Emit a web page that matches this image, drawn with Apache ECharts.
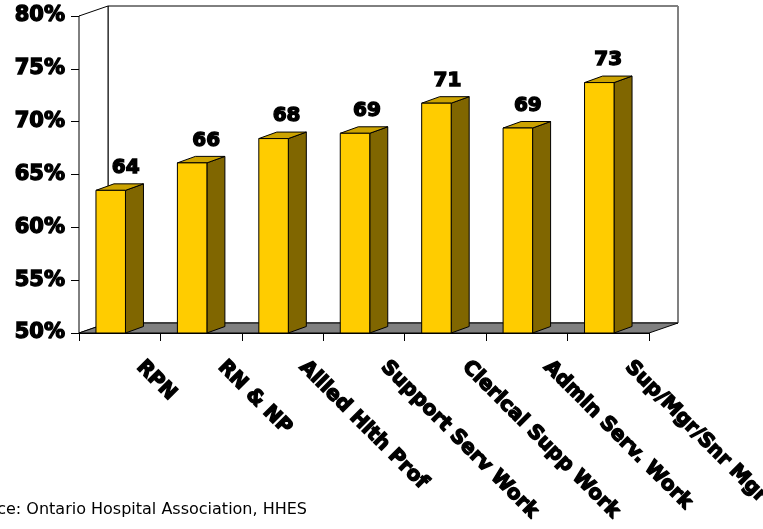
<!DOCTYPE html>
<html>
<head>
<meta charset="utf-8">
<script src="https://cdn.jsdelivr.net/npm/echarts@6/dist/echarts.min.js"></script>
<style>
html,body{margin:0;padding:0;background:#fff;}
#chart{width:763px;height:529px;}
</style>
</head>
<body>
<div id="chart"></div>
<script>
// ---- data ----
var categories = ['RPN', 'RN & NP', 'Allied Hlth Prof', 'Support Serv Work', 'Clerical Supp Work', 'Admin Serv. Work', 'Sup/Mgr/Snr Mgr'];
var values = [63.5, 66.1, 68.4, 68.9, 71.75, 69.4, 73.7];
var barLabels = ['64', '66', '68', '69', '71', '69', '73'];
var yMin = 50, yMax = 80, yStep = 5;
var sourceText = 'Source: Ontario Hospital Association, HHES';

// ---- style ----
var WALL_DX = 29, WALL_DY = -10;
var BAR_W = 29.5, BAR_DX = 18, BAR_DY = -6.5;
var FONT = 'DejaVu Sans';
var HEAVY = 1.4;

var chart = echarts.init(document.getElementById('chart'), null, {renderer: 'canvas'});

function renderWalls(params, api) {
  var cs = params.coordSys;
  var x = cs.x, y = cs.y, w = cs.width, h = cs.height;
  var b = y + h;
  return {
    type: 'group',
    children: [
      {type: 'rect', shape: {x: x + WALL_DX, y: y + WALL_DY, width: w, height: h},
       style: {fill: '#fff', stroke: '#000', lineWidth: 1}},
      {type: 'line', shape: {x1: x + w + WALL_DX, y1: y + WALL_DY, x2: x + w + WALL_DX, y2: b + WALL_DY},
       style: {stroke: '#808080', lineWidth: 2}},
      {type: 'polygon', shape: {points: [[x, y], [x + WALL_DX, y + WALL_DY], [x + WALL_DX, b + WALL_DY], [x, b]]},
       style: {fill: '#fff', stroke: '#000', lineWidth: 1}},
      {type: 'polygon', shape: {points: [[x, b], [x + WALL_DX, b + WALL_DY], [x + w + WALL_DX, b + WALL_DY], [x + w, b]]},
       style: {fill: '#808080', stroke: '#000', lineWidth: 1}}
    ]
  };
}

function renderBar(params, api) {
  var i = api.value(0);
  var v = api.value(1);
  var top = api.coord([i, v]);
  var base = api.coord([i, yMin]);
  var x0 = top[0] - (BAR_W + BAR_DX) / 2;
  var t = top[1], bt = base[1];
  var r = x0 + BAR_W;
  return {
    type: 'group',
    children: [
      {type: 'polygon', shape: {points: [[r, t], [r + BAR_DX, t + BAR_DY], [r + BAR_DX, bt + BAR_DY], [r, bt]]},
       style: {fill: '#806600', stroke: '#000', lineWidth: 1}},
      {type: 'polygon', shape: {points: [[x0, t], [x0 + BAR_DX, t + BAR_DY], [r + BAR_DX, t + BAR_DY], [r, t]]},
       style: {fill: '#CCA300', stroke: '#000', lineWidth: 1}},
      {type: 'rect', shape: {x: x0, y: t, width: BAR_W, height: bt - t},
       style: {fill: '#FFCC00', stroke: '#000', lineWidth: 1}},
      {type: 'text', x: x0 + (BAR_W + BAR_DX) / 2 + (6 - i), y: t + BAR_DY - 6,
       style: {text: barLabels[params.dataIndex], align: 'center', verticalAlign: 'bottom',
               font: 'bold 20px "' + FONT + '"', fill: '#000', stroke: '#000', lineWidth: HEAVY}},
      // category label, rotated 45 degrees downward
      {type: 'text', x: top[0] + 27, y: base[1] + 24, rotation: -Math.PI / 4,
       style: {text: categories[params.dataIndex], align: 'left', verticalAlign: 'top',
               font: 'bold 20px "' + FONT + '"', fill: '#000', stroke: '#000', lineWidth: HEAVY}}
    ]
  };
}

var barData = values.map(function (v, i) { return [i, v]; });

chart.setOption({
  animation: false,
  backgroundColor: '#fff',
  grid: {left: 79, top: 16, width: 570, height: 317, containLabel: false},
  xAxis: {
    type: 'category',
    data: categories,
    boundaryGap: true,
    axisLine: {show: true, lineStyle: {color: '#000', width: 1}},
    axisTick: {show: true, interval: 0, length: 8, alignWithLabel: false, lineStyle: {color: '#000'}},
    axisLabel: {show: false, interval: 0},
    splitLine: {show: false}
  },
  yAxis: {
    type: 'value',
    min: yMin, max: yMax, interval: yStep,
    axisLine: {show: true, lineStyle: {color: '#000', width: 1}},
    axisTick: {show: true, length: 8, lineStyle: {color: '#000'}},
    axisLabel: {
      formatter: '{value}%', margin: 14,
      color: '#000', fontFamily: FONT, fontWeight: 'bold', fontSize: 21,
      textBorderColor: '#000', textBorderWidth: HEAVY
    },
    splitLine: {show: false}
  },
  series: [
    {type: 'custom', renderItem: renderWalls, data: [[0, yMin]], z: 1, silent: true, clip: false},
    {type: 'custom', renderItem: renderBar, data: barData, z: 3, clip: false}
  ],
  graphic: [
    {type: 'text', x: 307, y: 510,
     style: {text: sourceText, align: 'right', verticalAlign: 'middle', font: '16px "' + FONT + '"', fill: '#000'}}
  ]
});
</script>
</body>
</html>
